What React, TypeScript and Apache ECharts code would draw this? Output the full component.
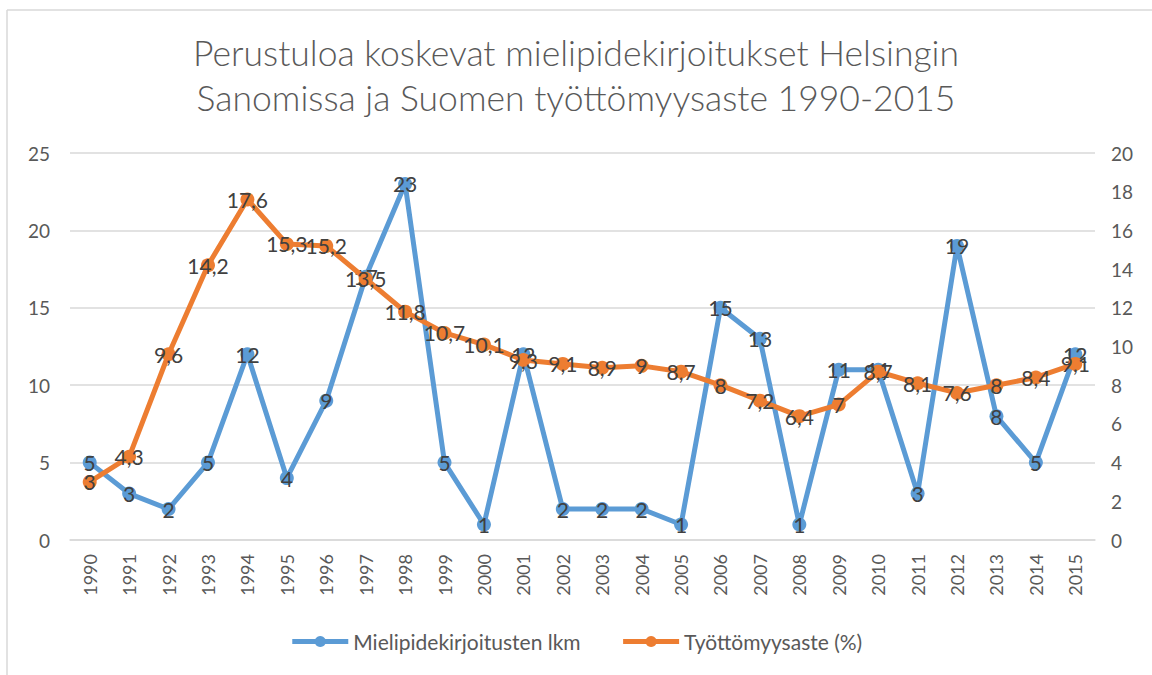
import React, { useEffect, useRef } from "react";
import * as echarts from "echarts";

const years = ["1990","1991","1992","1993","1994","1995","1996","1997","1998","1999","2000","2001","2002","2003","2004","2005","2006","2007","2008","2009","2010","2011","2012","2013","2014","2015"];
const writings = [5,3,2,5,12,4,9,17,23,5,1,12,2,2,2,1,15,13,1,11,11,3,19,8,5,12];
const unemployment = [3,4.3,9.6,14.2,17.6,15.3,15.2,13.5,11.8,10.7,10.1,9.3,9.1,8.9,9,8.7,8,7.2,6.4,7,8.7,8.1,7.6,8,8.4,9.1];

const titleText = "Perustuloa koskevat mielipidekirjoitukset Helsingin\nSanomissa ja Suomen työttömyysaste 1990-2015";
const seriesNames = ["Mielipidekirjoitusten lkm", "Työttömyysaste (%)"];

const FONT = "Lato, 'Open Sans', sans-serif";

export default function App() {
  const ref = useRef<HTMLDivElement>(null);
  useEffect(() => {
    if (!ref.current) return;
    const chart = echarts.init(ref.current, undefined, { renderer: "svg" });
    const label = {
      show: true,
      position: "inside",
      color: "#404040",
      fontSize: 21,
      fontFamily: FONT,
      formatter: (p: any) => String(p.value).replace(".", ","),
    };
    chart.setOption({
      animation: false,
      textStyle: { fontFamily: FONT },
      title: {
        text: titleText,
        left: "center",
        top: 25,
        textStyle: { fontSize: 35.5, fontWeight: 300, color: "#595959", lineHeight: 45, fontFamily: FONT },
      },
      graphic: [
        { type: "line", shape: { x1: 7, y1: 10, x2: 1152, y2: 10 }, style: { stroke: "#D9D9D9", lineWidth: 1.5 } },
        { type: "line", shape: { x1: 7, y1: 10, x2: 7, y2: 675 }, style: { stroke: "#D9D9D9", lineWidth: 1.5 } },
      ],
      legend: {
        bottom: 18,
        left: "center",
        itemWidth: 56,
        itemHeight: 14,
        itemGap: 40,
        textStyle: { fontSize: 21, color: "#595959", fontFamily: FONT },
        data: [
          { name: seriesNames[0], lineStyle: { width: 5 } },
          { name: seriesNames[1], lineStyle: { width: 5 } },
        ],
      },
      grid: { left: 70, right: 57, top: 153, bottom: 135, containLabel: false },
      xAxis: {
        type: "category",
        data: years,
        boundaryGap: true,
        axisLine: { lineStyle: { color: "#D9D9D9", width: 1.5 } },
        axisTick: { show: false },
        axisLabel: { rotate: 90, color: "#595959", fontSize: 18, margin: 14, interval: 0 },
      },
      yAxis: [
        {
          type: "value", min: 0, max: 25, interval: 5,
          axisLine: { show: false }, axisTick: { show: false },
          axisLabel: { color: "#595959", fontSize: 19, margin: 20 },
          splitLine: { lineStyle: { color: "#D9D9D9", width: 1.5 } },
        },
        {
          type: "value", min: 0, max: 20, interval: 2,
          axisLine: { show: false }, axisTick: { show: false },
          axisLabel: { color: "#595959", fontSize: 19, margin: 16 },
          splitLine: { show: false },
        },
      ],
      series: [
        {
          name: seriesNames[0],
          type: "line",
          data: writings,
          yAxisIndex: 0,
          symbol: "circle",
          symbolSize: 14,
          lineStyle: { color: "#5B9BD5", width: 5 },
          itemStyle: { color: "#5B9BD5" },
          label,
          z: 2,
        },
        {
          name: seriesNames[1],
          type: "line",
          data: unemployment,
          yAxisIndex: 1,
          symbol: "circle",
          symbolSize: 14,
          lineStyle: { color: "#ED7D31", width: 5 },
          itemStyle: { color: "#ED7D31" },
          label,
          z: 3,
        },
      ],
    });
    return () => chart.dispose();
  }, []);
  return <div ref={ref} style={{ position: "absolute", left: 0, top: 0, width: 1152, height: 675 }} />;
}
